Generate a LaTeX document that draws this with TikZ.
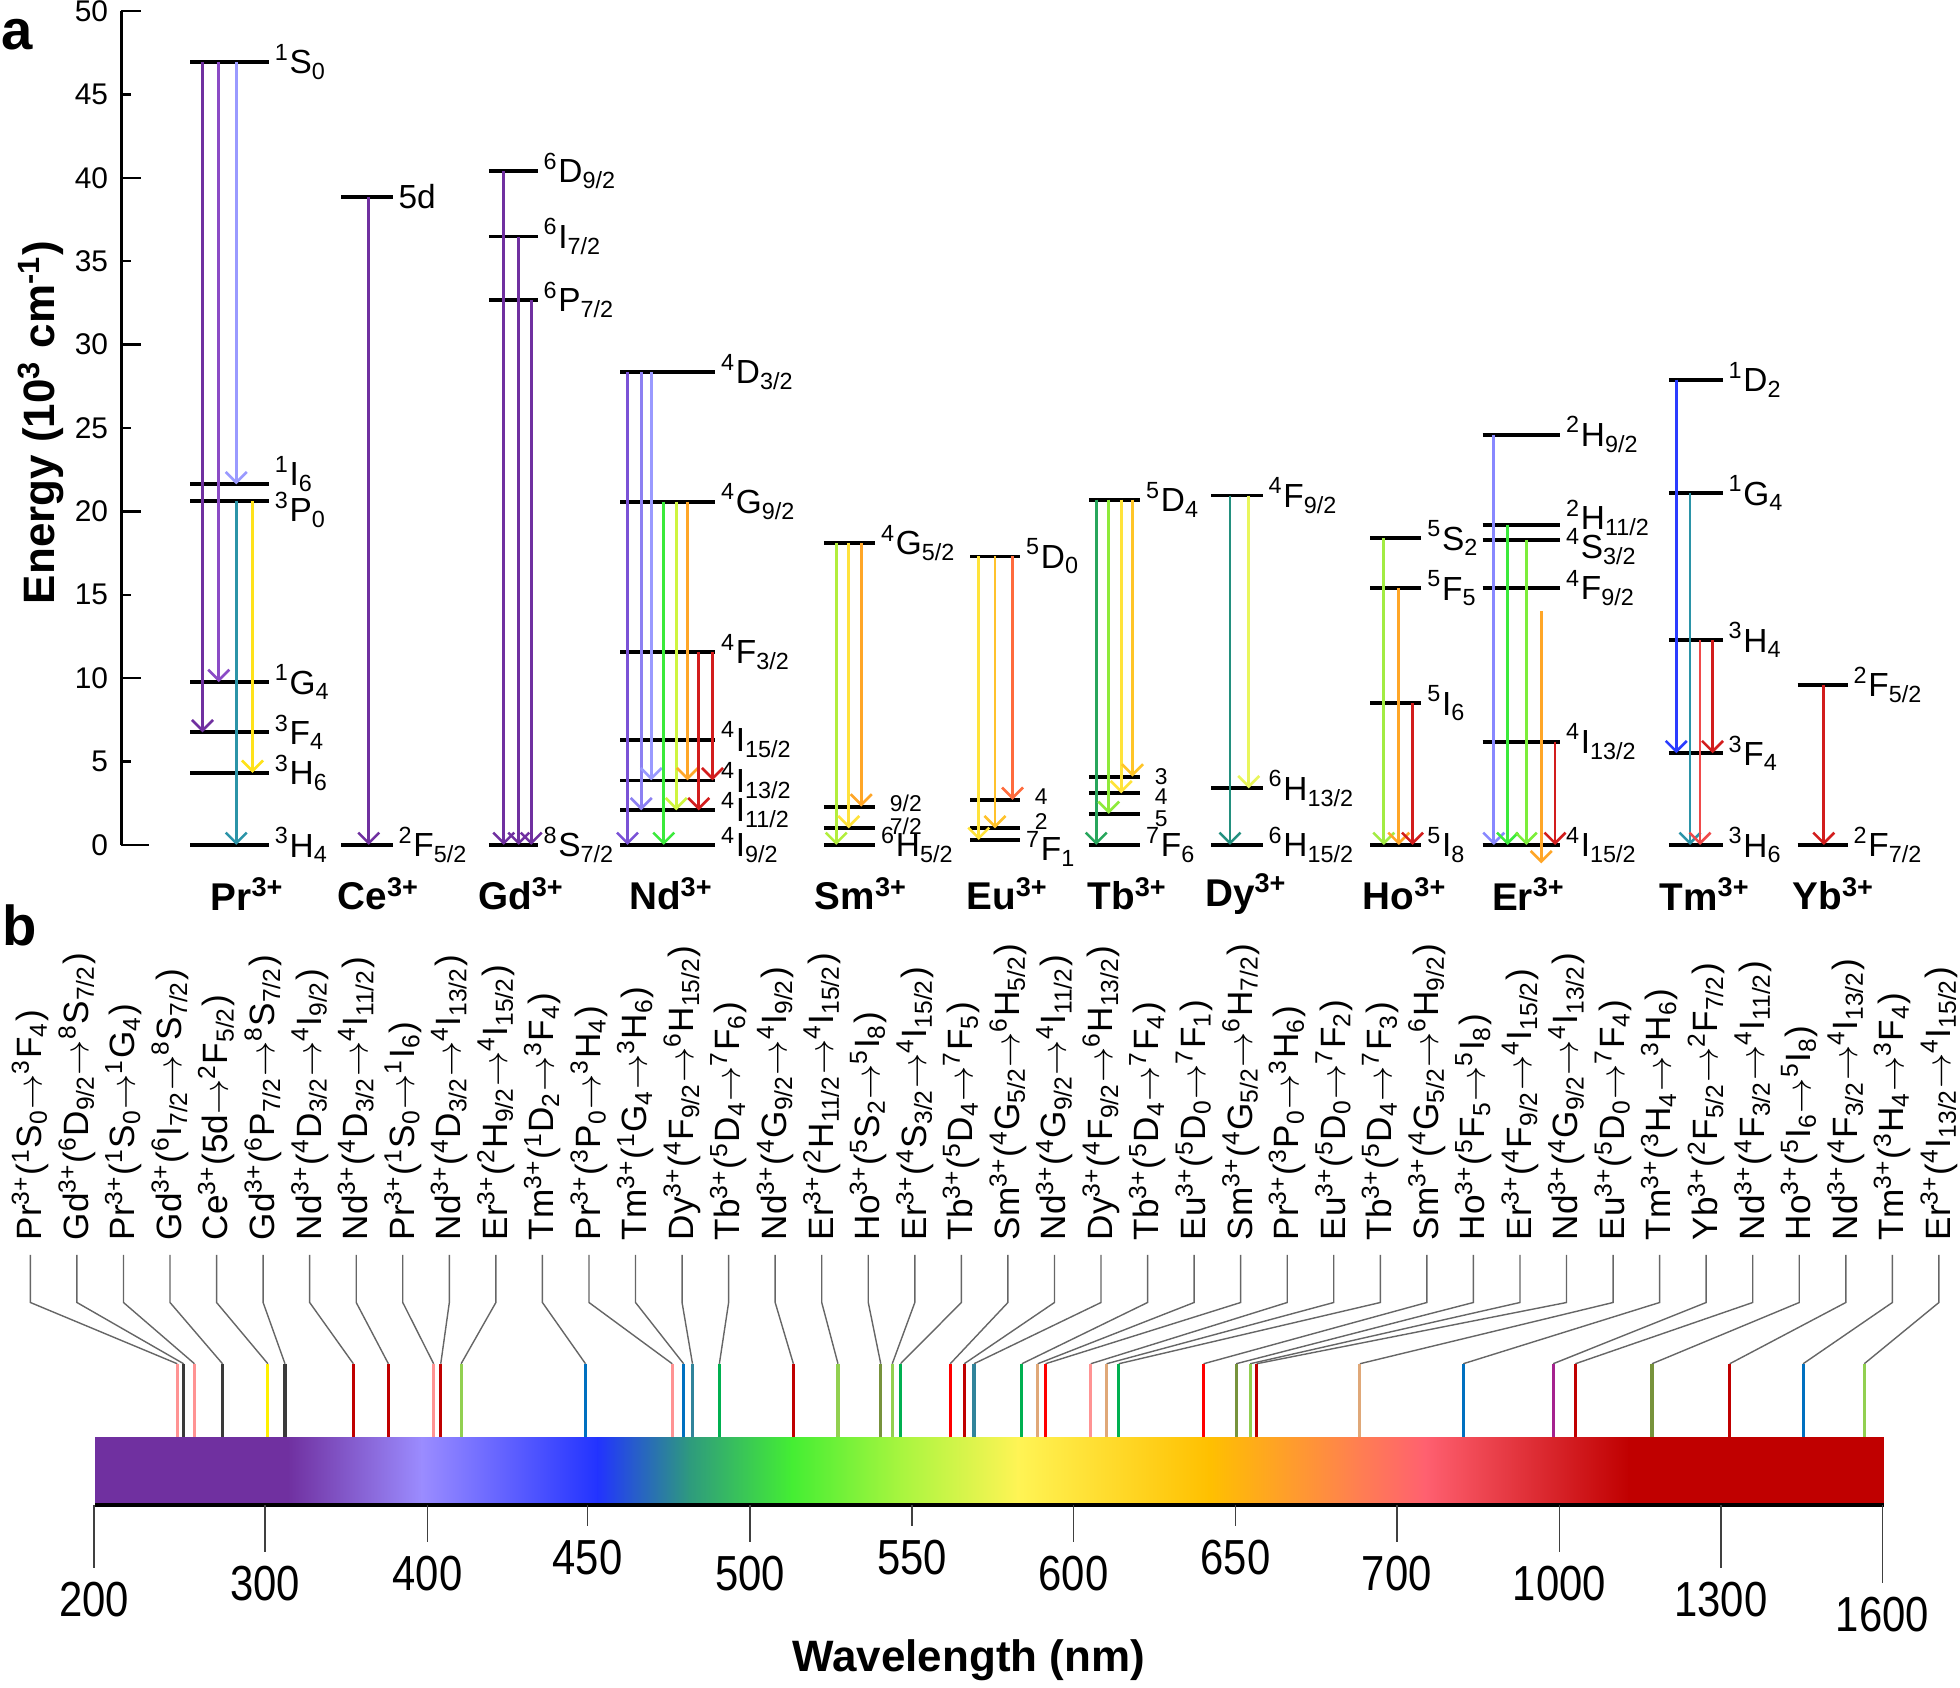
\documentclass[tikz,border=0pt]{standalone}
\usepackage{fontspec}
\setmainfont{Liberation Sans}
\newfontfamily\narrowfont[FakeStretch=0.85]{Liberation Sans}
\usetikzlibrary{arrows.meta}

% panel a colours
\definecolor{cvio}{HTML}{7030A0}
\definecolor{cvioB}{HTML}{8B4BC6}
\definecolor{clav}{HTML}{9A9AFF}
\definecolor{cndA}{HTML}{7A52D6}
\definecolor{cndB}{HTML}{8C80F2}
\definecolor{cteal}{HTML}{2B94A8}
\definecolor{cdyt}{HTML}{23907F}
\definecolor{cyel}{HTML}{FFE21A}
\definecolor{cgrn}{HTML}{3BEA3B}
\definecolor{cygrn}{HTML}{CFF53F}
\definecolor{corg}{HTML}{FFA628}
\definecolor{cred}{HTML}{D21D1D}
\definecolor{csmg}{HTML}{B2EE3C}
\definecolor{csmy}{HTML}{FFE23C}
\definecolor{ceuy}{HTML}{FFE33A}
\definecolor{ceuo}{HTML}{FFC22C}
\definecolor{ceur}{HTML}{FF6B3D}
\definecolor{ctbg}{HTML}{27A65C}
\definecolor{ctbl}{HTML}{8EEA3A}
\definecolor{ctbo}{HTML}{FFC528}
\definecolor{cdyy}{HTML}{E9F65C}
\definecolor{choy}{HTML}{A2EC43}
\definecolor{cerl}{HTML}{8888FF}
\definecolor{cerg}{HTML}{7CEE3A}
\definecolor{ctmb}{HTML}{2A3CFF}
\definecolor{ctmr}{HTML}{F04A4A}
% panel b colours (one per ion)
\definecolor{bPr}{HTML}{FF9393}
\definecolor{bGd}{HTML}{3A3A3A}
\definecolor{bCe}{HTML}{FFF000}
\definecolor{bNd}{HTML}{C00000}
\definecolor{bEr}{HTML}{92D050}
\definecolor{bTm}{HTML}{0070C0}
\definecolor{bDy}{HTML}{31849B}
\definecolor{bTb}{HTML}{00B050}
\definecolor{bHo}{HTML}{77933C}
\definecolor{bSm}{HTML}{FF0000}
\definecolor{bEu}{HTML}{E0A878}
\definecolor{bYb}{HTML}{A5228E}
% spectrum stops
\definecolor{sp1}{HTML}{7030A0}
\definecolor{sp2}{HTML}{9B8CFF}
\definecolor{sp3}{HTML}{2233FF}
\definecolor{sp4}{HTML}{2E9A7E}
\definecolor{sp5}{HTML}{44EE33}
\definecolor{sp6}{HTML}{A8F53F}
\definecolor{sp7}{HTML}{FFF455}
\definecolor{sp8}{HTML}{FFC000}
\definecolor{sp9}{HTML}{FF8050}
\definecolor{sp10}{HTML}{FF6070}
\definecolor{sp11}{HTML}{C00000}

\newcommand{\ion}[1]{#1\textsuperscript{3+}}
\newcommand{\lvl}[3]{\textsuperscript{#1}#2\textsubscript{#3}}
\newcommand{\goesto}{$\rightarrow$}

\begin{document}
\begin{tikzpicture}[
        x=0.0125cm, y=-0.0125cm,
        lvl/.style={line width=1.1pt},
        lvlab/.style={right, inner sep=1.2pt, font=\fontsize{9.5}{10}\selectfont},
        smalllab/.style={font=\fontsize{6.5}{7}\selectfont, xshift=2.5pt},
        emit/.style={line width=0.75pt, -{Straight Barb[length=3pt,width=6pt]}},
        ionlab/.style={font=\bfseries\fontsize{11}{12}\selectfont},
        panel/.style={font=\bfseries\fontsize{16}{18}\selectfont},
        axlab/.style={font=\bfseries\fontsize{12.5}{14}\selectfont},
        enlab/.style={anchor=east, inner sep=0pt, font=\fontsize{8.5}{10}\selectfont},
        axtick/.style={line width=0.7pt},
        translab/.style={rotate=90, anchor=west, inner xsep=4pt, inner ysep=0pt,
                         font=\fontsize{10}{12}\selectfont},
        leader/.style={black!60, line width=0.4pt},
        emline/.style={line width=0.9pt},
        wlab/.style={font=\narrowfont\fontsize{14}{16}\selectfont},
    ]
    \useasboundingbox (0,0) rectangle (1568,1350);

    % Panel letters and axis title
    \node[panel] (pa) at (14,28) {a};
    \node[panel] (pb) at (16,740) {b};
    \node[axlab, rotate=90] (enaxis) at (33,338) {Energy (10\textsuperscript{3} cm\textsuperscript{-1})};

    % ---- panel a: energy levels (x in px, y in 10^3 cm^-1)
    \begin{scope}[shift={(0,676)}, y=0.16675cm]
        \draw[line width=0.9pt] (97,0) -- (97,50);
        \foreach \en in {10,20,...,50} \draw[axtick] (97,\en) -- (113,\en);
        \foreach \en in {5,15,...,45} \draw[axtick] (97,\en) -- (105,\en);
        \draw[axtick] (97,0) -- (119,0);
        \foreach \en in {0,5,...,50} \node[enlab] (e\en) at (87,\en) {\en};

        % Pr3+
        \foreach \en/\txt [count=\i] in {46.95/{\lvl{1}{S}{0}}, 9.77/{\lvl{1}{G}{4}},
                6.75/{\lvl{3}{F}{4}}, 4.32/{\lvl{3}{H}{6}}, 0/{\lvl{3}{H}{4}}}
            \draw[lvl] (152,\en) -- (215,\en) node[lvlab] (pr\i) {\txt};
        \draw[lvl] (152,21.62) -- (215,21.62) node[lvlab, yshift=3pt] (prI) {\lvl{1}{I}{6}};
        \draw[lvl] (152,20.62) -- (215,20.62) node[lvlab, yshift=-2.5pt] (prP) {\lvl{3}{P}{0}};

        % Ce3+
        \draw[lvl] (273,38.85) -- (314,38.85) node[lvlab] (ce1) {5d};
        \draw[lvl] (273,0) -- (314,0) node[lvlab] (ce2) {\lvl{2}{F}{5/2}};

        % Gd3+
        \foreach \en/\txt [count=\i] in {40.4/{\lvl{6}{D}{9/2}}, 36.48/{\lvl{6}{I}{7/2}},
                32.68/{\lvl{6}{P}{7/2}}, 0/{\lvl{8}{S}{7/2}}}
            \draw[lvl] (391,\en) -- (430,\en) node[lvlab] (gd\i) {\txt};

        % Nd3+
        \foreach \en/\txt [count=\i] in {28.34/{\lvl{4}{D}{3/2}}, 20.58/{\lvl{4}{G}{9/2}},
                11.56/{\lvl{4}{F}{3/2}}, 6.32/{\lvl{4}{I}{15/2}}, 3.87/{\lvl{4}{I}{13/2}},
                2.08/{\lvl{4}{I}{11/2}}, 0/{\lvl{4}{I}{9/2}}}
            \draw[lvl] (496,\en) -- (572,\en) node[lvlab] (nd\i) {\txt};

        % Sm3+
        \draw[lvl] (659,18.09) -- (700,18.09) node[lvlab] (sm1) {\lvl{4}{G}{5/2}};
        \draw[lvl] (659,2.3) -- (700,2.3) node[lvlab, smalllab, yshift=1pt] (sm2) {9/2};
        \draw[lvl] (659,1.0) -- (700,1.0) node[lvlab, smalllab, yshift=0.5pt] (sm3) {7/2};
        \draw[lvl] (659,0) -- (700,0) node[lvlab] (sm4) {\lvl{6}{H}{5/2}};

        % Eu3+
        \draw[lvl] (776,17.3) -- (816,17.3) node[lvlab] (eu1) {\lvl{5}{D}{0}};
        \draw[lvl] (776,2.7) -- (816,2.7) node[lvlab, smalllab, yshift=1pt] (eu2) {4};
        \draw[lvl] (776,1.0) -- (816,1.0) node[lvlab, smalllab, yshift=2pt] (eu3) {2};
        \draw[lvl] (776,0.3) -- (816,0.3) node[lvlab, yshift=-2.5pt] (eu4) {\lvl{7}{F}{1}};

        % Tb3+
        \draw[lvl] (871,20.7) -- (912,20.7) node[lvlab] (tb1) {\lvl{5}{D}{4}};
        \draw[lvl] (871,4.1) -- (912,4.1) node[lvlab, smalllab] (tb2) {3};
        \draw[lvl] (871,3.1) -- (912,3.1) node[lvlab, smalllab, yshift=-1pt] (tb3) {4};
        \draw[lvl] (871,1.86) -- (912,1.86) node[lvlab, smalllab, yshift=-1.5pt] (tb4) {5};
        \draw[lvl] (871,0) -- (912,0) node[lvlab] (tb5) {\lvl{7}{F}{6}};

        % Dy3+
        \foreach \en/\txt [count=\i] in {20.95/{\lvl{4}{F}{9/2}}, 3.4/{\lvl{6}{H}{13/2}},
                0/{\lvl{6}{H}{15/2}}}
            \draw[lvl] (969,\en) -- (1010,\en) node[lvlab] (dy\i) {\txt};

        % Ho3+
        \foreach \en/\txt [count=\i] in {18.4/{\lvl{5}{S}{2}}, 15.4/{\lvl{5}{F}{5}},
                8.5/{\lvl{5}{I}{6}}, 0/{\lvl{5}{I}{8}}}
            \draw[lvl] (1096,\en) -- (1137,\en) node[lvlab] (ho\i) {\txt};

        % Er3+
        \foreach \en/\txt [count=\i] in {24.6/{\lvl{2}{H}{9/2}}, 15.4/{\lvl{4}{F}{9/2}},
                6.2/{\lvl{4}{I}{13/2}}, 0/{\lvl{4}{I}{15/2}}}
            \draw[lvl] (1186,\en) -- (1248,\en) node[lvlab] (er\i) {\txt};
        \draw[lvl] (1186,19.2) -- (1248,19.2) node[lvlab, yshift=2pt] (erH) {\lvl{2}{H}{11/2}};
        \draw[lvl] (1186,18.3) -- (1248,18.3) node[lvlab, yshift=-2pt] (erS) {\lvl{4}{S}{3/2}};

        % Tm3+
        \foreach \en/\txt [count=\i] in {27.9/{\lvl{1}{D}{2}}, 21.1/{\lvl{1}{G}{4}},
                12.3/{\lvl{3}{H}{4}}, 5.5/{\lvl{3}{F}{4}}, 0/{\lvl{3}{H}{6}}}
            \draw[lvl] (1335,\en) -- (1378,\en) node[lvlab] (tm\i) {\txt};

        % Yb3+
        \draw[lvl] (1438,9.6) -- (1478,9.6) node[lvlab] (yb1) {\lvl{2}{F}{5/2}};
        \draw[lvl] (1438,0) -- (1478,0) node[lvlab] (yb2) {\lvl{2}{F}{7/2}};

        % Transitions
        \foreach \x/\a/\b/\c in {162/46.95/6.75/cvio, 175/46.95/9.77/cvioB,
                189/46.95/21.62/clav, 189/20.62/0/cteal, 202/20.62/4.32/cyel,
                295/38.85/0/cvio,
                403/40.4/0/cvio, 415/36.48/0/cvio, 425/32.68/0/cvio,
                502/28.34/0/cndA, 513/28.34/2.08/cndB, 521/28.34/3.87/clav,
                531/20.58/0/cgrn, 541/20.58/2.08/cygrn, 550/20.58/3.87/corg,
                559/11.56/2.08/cred, 570/11.56/3.87/cred,
                669/18.09/0/csmg, 679/18.09/1.0/csmy, 689/18.09/2.3/corg,
                783/17.3/0.3/ceuy, 796/17.3/1.0/ceuo, 810/17.3/2.7/ceur,
                877/20.7/0/ctbg, 887/20.7/1.86/ctbl, 897/20.7/3.1/ceuy, 906/20.7/4.1/ctbo,
                984/20.95/0/cdyt, 999/20.95/3.4/cdyy,
                1107/18.4/0/choy, 1119/15.4/0/corg, 1130/8.5/0/cred,
                1195/24.6/0/cerl, 1206/19.2/0/cgrn, 1221/18.3/0/cerg,
                1233/14.0/-1.1/corg, 1244/6.2/0/cred,
                1341/27.9/5.5/ctmb, 1352/21.1/0/cteal, 1360/12.3/0/ctmr, 1370/12.3/5.5/cred,
                1459/9.6/0/cred}
            \draw[emit, \c] (\x,\a) -- (\x,\b);
    \end{scope}

    % Ion names
    \foreach \x/\n in {198/Pr, 303/Ce, 417/Gd, 537/Nd, 689/Sm, 806/Eu, 902/Tb,
            997/Dy, 1124/Ho, 1223/Er, 1364/Tm, 1467/Yb}
        \node[ionlab] (ion\n) at (\x,715) {\ion{\n}};

    % ---- panel b: spectrum bar
    \foreach \xa/\ca/\xb/\cb in {76/sp1/230/sp1, 230/sp1/337/sp2, 337/sp2/478/sp3,
            478/sp3/551/sp4, 551/sp4/633/sp5, 633/sp5/720/sp6, 720/sp6/814/sp7,
            814/sp7/967/sp8, 967/sp8/1084/sp9, 1084/sp9/1140/sp10,
            1140/sp10/1303/sp11, 1303/sp11/1506.2/sp11}
        \shade[left color=\ca, right color=\cb] (\xa,1150) rectangle ({\xb+0.8},1203);
    \draw[line width=0.9pt] (76,1204) -- (1507,1204);

    % Wavelength ticks
    \foreach \x/\w/\d in {75.5/200/1254.7, 212/300/1242, 342/400/1233.9, 470/450/1221,
            600/500/1233.9, 729.6/550/1221, 858.8/600/1233.9, 988.4/650/1221,
            1117.5/700/1233.9, 1247.6/1000/1242, 1376.6/1300/1254.7, 1506/1600/1266.7} {
        \draw[black!75, line width=0.55pt] (\x,1204) -- (\x,\d);
        \node[wlab] (wl\w) at (\x,{\d+25}) {\w};
    }
    \node[axlab] (wlaxis) at (775,1328) {Wavelength (nm)};

    % Transition labels, leaders and emission lines
    \foreach \txt/\col/\lx [count=\i] in {
            {\ion{Pr}(\lvl{1}{S}{0}\goesto\lvl{3}{F}{4})}/bPr/141.8,
            {\ion{Gd}(\lvl{6}{D}{9/2}\goesto\lvl{8}{S}{7/2})}/bGd/146.9,
            {\ion{Pr}(\lvl{1}{S}{0}\goesto\lvl{1}{G}{4})}/bPr/155.6,
            {\ion{Gd}(\lvl{6}{I}{7/2}\goesto\lvl{8}{S}{7/2})}/bGd/178,
            {\ion{Ce}(5d\goesto\lvl{2}{F}{5/2})}/bCe/214.3,
            {\ion{Gd}(\lvl{6}{P}{7/2}\goesto\lvl{8}{S}{7/2})}/bGd/228,
            {\ion{Nd}(\lvl{4}{D}{3/2}\goesto\lvl{4}{I}{9/2})}/bNd/282.7,
            {\ion{Nd}(\lvl{4}{D}{3/2}\goesto\lvl{4}{I}{11/2})}/bNd/310.7,
            {\ion{Pr}(\lvl{1}{S}{0}\goesto\lvl{1}{I}{6})}/bPr/346.9,
            {\ion{Nd}(\lvl{4}{D}{3/2}\goesto\lvl{4}{I}{13/2})}/bNd/352.6,
            {\ion{Er}(\lvl{2}{H}{9/2}\goesto\lvl{4}{I}{15/2})}/bEr/368.9,
            {\ion{Tm}(\lvl{1}{D}{2}\goesto\lvl{3}{F}{4})}/bTm/468.4,
            {\ion{Pr}(\lvl{3}{P}{0}\goesto\lvl{3}{H}{4})}/bPr/537.8,
            {\ion{Tm}(\lvl{1}{G}{4}\goesto\lvl{3}{H}{6})}/bTm/546.9,
            {\ion{Dy}(\lvl{4}{F}{9/2}\goesto\lvl{6}{H}{15/2})}/bDy/554,
            {\ion{Tb}(\lvl{5}{D}{4}\goesto\lvl{7}{F}{6})}/bTb/575.5,
            {\ion{Nd}(\lvl{4}{G}{9/2}\goesto\lvl{4}{I}{9/2})}/bNd/634.7,
            {\ion{Er}(\lvl{2}{H}{11/2}\goesto\lvl{4}{I}{15/2})}/bEr/670.4,
            {\ion{Ho}(\lvl{5}{S}{2}\goesto\lvl{5}{I}{8})}/bHo/704.6,
            {\ion{Er}(\lvl{4}{S}{3/2}\goesto\lvl{4}{I}{15/2})}/bEr/713.8,
            {\ion{Tb}(\lvl{5}{D}{4}\goesto\lvl{7}{F}{5})}/bTb/720.4,
            {\ion{Sm}(\lvl{4}{G}{5/2}\goesto\lvl{6}{H}{5/2})}/bSm/760.2,
            {\ion{Nd}(\lvl{4}{G}{9/2}\goesto\lvl{4}{I}{11/2})}/bNd/771.4,
            {\ion{Dy}(\lvl{4}{F}{9/2}\goesto\lvl{6}{H}{13/2})}/bDy/779.2,
            {\ion{Tb}(\lvl{5}{D}{4}\goesto\lvl{7}{F}{4})}/bTb/817.5,
            {\ion{Eu}(\lvl{5}{D}{0}\goesto\lvl{7}{F}{1})}/bEu/830.2,
            {\ion{Sm}(\lvl{4}{G}{5/2}\goesto\lvl{6}{H}{7/2})}/bSm/836.4,
            {\ion{Pr}(\lvl{3}{P}{0}\goesto\lvl{3}{H}{6})}/bPr/872.6,
            {\ion{Eu}(\lvl{5}{D}{0}\goesto\lvl{7}{F}{2})}/bEu/885.3,
            {\ion{Tb}(\lvl{5}{D}{4}\goesto\lvl{7}{F}{3})}/bTb/895,
            {\ion{Sm}(\lvl{4}{G}{5/2}\goesto\lvl{6}{H}{9/2})}/bSm/962.9,
            {\ion{Ho}(\lvl{5}{F}{5}\goesto\lvl{5}{I}{8})}/bHo/988.9,
            {\ion{Er}(\lvl{4}{F}{9/2}\goesto\lvl{4}{I}{15/2})}/bEr/1000.1,
            {\ion{Nd}(\lvl{4}{G}{9/2}\goesto\lvl{4}{I}{13/2})}/bNd/1005.3,
            {\ion{Eu}(\lvl{5}{D}{0}\goesto\lvl{7}{F}{4})}/bEu/1087.9,
            {\ion{Tm}(\lvl{3}{H}{4}\goesto\lvl{3}{H}{6})}/bTm/1170.6,
            {\ion{Yb}(\lvl{2}{F}{5/2}\goesto\lvl{2}{F}{7/2})}/bYb/1242.5,
            {\ion{Nd}(\lvl{4}{F}{3/2}\goesto\lvl{4}{I}{11/2})}/bNd/1260.3,
            {\ion{Ho}(\lvl{5}{I}{6}\goesto\lvl{5}{I}{8})}/bHo/1321.6,
            {\ion{Nd}(\lvl{4}{F}{3/2}\goesto\lvl{4}{I}{13/2})}/bNd/1383.8,
            {\ion{Tm}(\lvl{3}{H}{4}\goesto\lvl{3}{F}{4})}/bTm/1442.5,
            {\ion{Er}(\lvl{4}{I}{13/2}\goesto\lvl{4}{I}{15/2})}/bEr/1491.4} {
        \pgfmathsetmacro{\cx}{24.3+37.24*(\i-1)}
        \node[translab] (lab\i) at (\cx,1004) {\txt};
        \coordinate (bend\i) at (\cx,1042);
        \coordinate (top\i) at (\lx,1091);
        \coordinate (foot\i) at (\lx,1150);
        \draw[leader] (lab\i.west) -- (bend\i) -- (top\i);
        \draw[emline, \col] (top\i) -- (foot\i);
    }
\end{tikzpicture}
\end{document}
